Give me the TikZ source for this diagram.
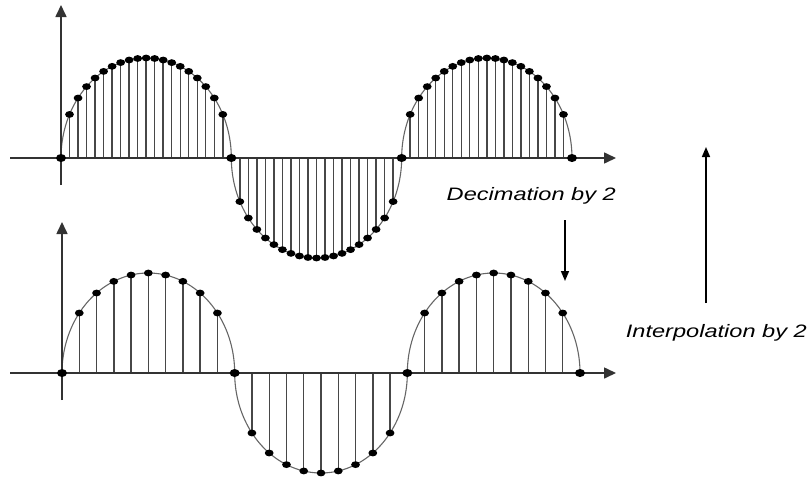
\documentclass[tikz,border=0pt]{standalone}
\usepackage{fontspec}
\setmainfont{Liberation Sans}
\usetikzlibrary{arrows.meta}
\begin{document}
\begin{tikzpicture}[x=1pt,y=-1pt,
  axis/.style={draw=black!80, line width=1.6pt, -{Triangle[length=12pt,width=11pt]}},
  stem/.style={draw=black!72, line width=1.4pt},
  curve/.style={draw=black!60, line width=1.1pt},
  dot/.style={fill=black},
  flow/.style={draw=black, line width=1.6pt, -{Triangle[length=10pt,width=8pt]}},
  lbl/.style={font=\fontsize{18}{20}\selectfont\itshape, inner sep=0pt}]
\useasboundingbox (0,0) rectangle (809,477);
% ---------- top panel ----------
\def\xa{61}\def\ya{158}\def\La{170.33}
\foreach \h/\s in {0/1,1/-1,2/1}{
  \draw[curve] plot[domain=0:180, samples=90, smooth]
    ({\xa+\h*\La+\La/2*(1-cos(\x))},{\ya-\s*100*sin(\x)});
  \foreach \k in {1,...,19}{
    \pgfmathsetmacro{\px}{\xa+\h*\La+\k*\La/20}
    \pgfmathsetmacro{\py}{\ya-\s*200*sqrt(max(0,\k/20*(1-\k/20)))}
    \draw[stem] (\px,\ya) -- (\px,\py);
    \fill[dot] (\px,\py) ellipse [x radius=4.4pt, y radius=3.4pt];
  }
}
\draw[axis] (10,\ya) -- (616,\ya);
\draw[axis] (\xa,185) -- (\xa,5);
\foreach \h in {0,1,2,3}{
  \fill[dot] ({\xa+\h*\La},\ya) ellipse [x radius=5pt, y radius=4pt];
}
% ---------- bottom panel ----------
\def\xb{62}\def\yb{373}\def\Lb{172.67}
\foreach \h/\s in {0/1,1/-1,2/1}{
  \draw[curve] plot[domain=0:180, samples=90, smooth]
    ({\xb+\h*\Lb+\Lb/2*(1-cos(\x))},{\yb-\s*100*sin(\x)});
  \foreach \k in {1,...,9}{
    \pgfmathsetmacro{\px}{\xb+\h*\Lb+\k*\Lb/10}
    \pgfmathsetmacro{\py}{\yb-\s*200*sqrt(max(0,\k/10*(1-\k/10)))}
    \draw[stem] (\px,\yb) -- (\px,\py);
    \fill[dot] (\px,\py) ellipse [x radius=4.4pt, y radius=3.4pt];
  }
}
\draw[axis] (10,\yb) -- (616,\yb);
\draw[axis] (\xb,400) -- (\xb,222);
\foreach \h in {0,1,2,3}{
  \fill[dot] ({\xb+\h*\Lb},\yb) ellipse [x radius=5pt, y radius=4pt];
}
% ---------- labels and arrows ----------
\node[lbl, anchor=east] (dec) at (616,196) {\scalebox{1.31}[1]{Decimation by 2}};
\node[lbl, anchor=east] (int) at (807,333) {\scalebox{1.31}[1]{Interpolation by 2}};
\coordinate (d1) at (565,220);
\coordinate (d2) at (565,281);
\coordinate (u1) at (706,303);
\coordinate (u2) at (706,147);
\draw[flow] (d1) -- (d2);
\draw[flow] (u1) -- (u2);
\end{tikzpicture}
\end{document}
